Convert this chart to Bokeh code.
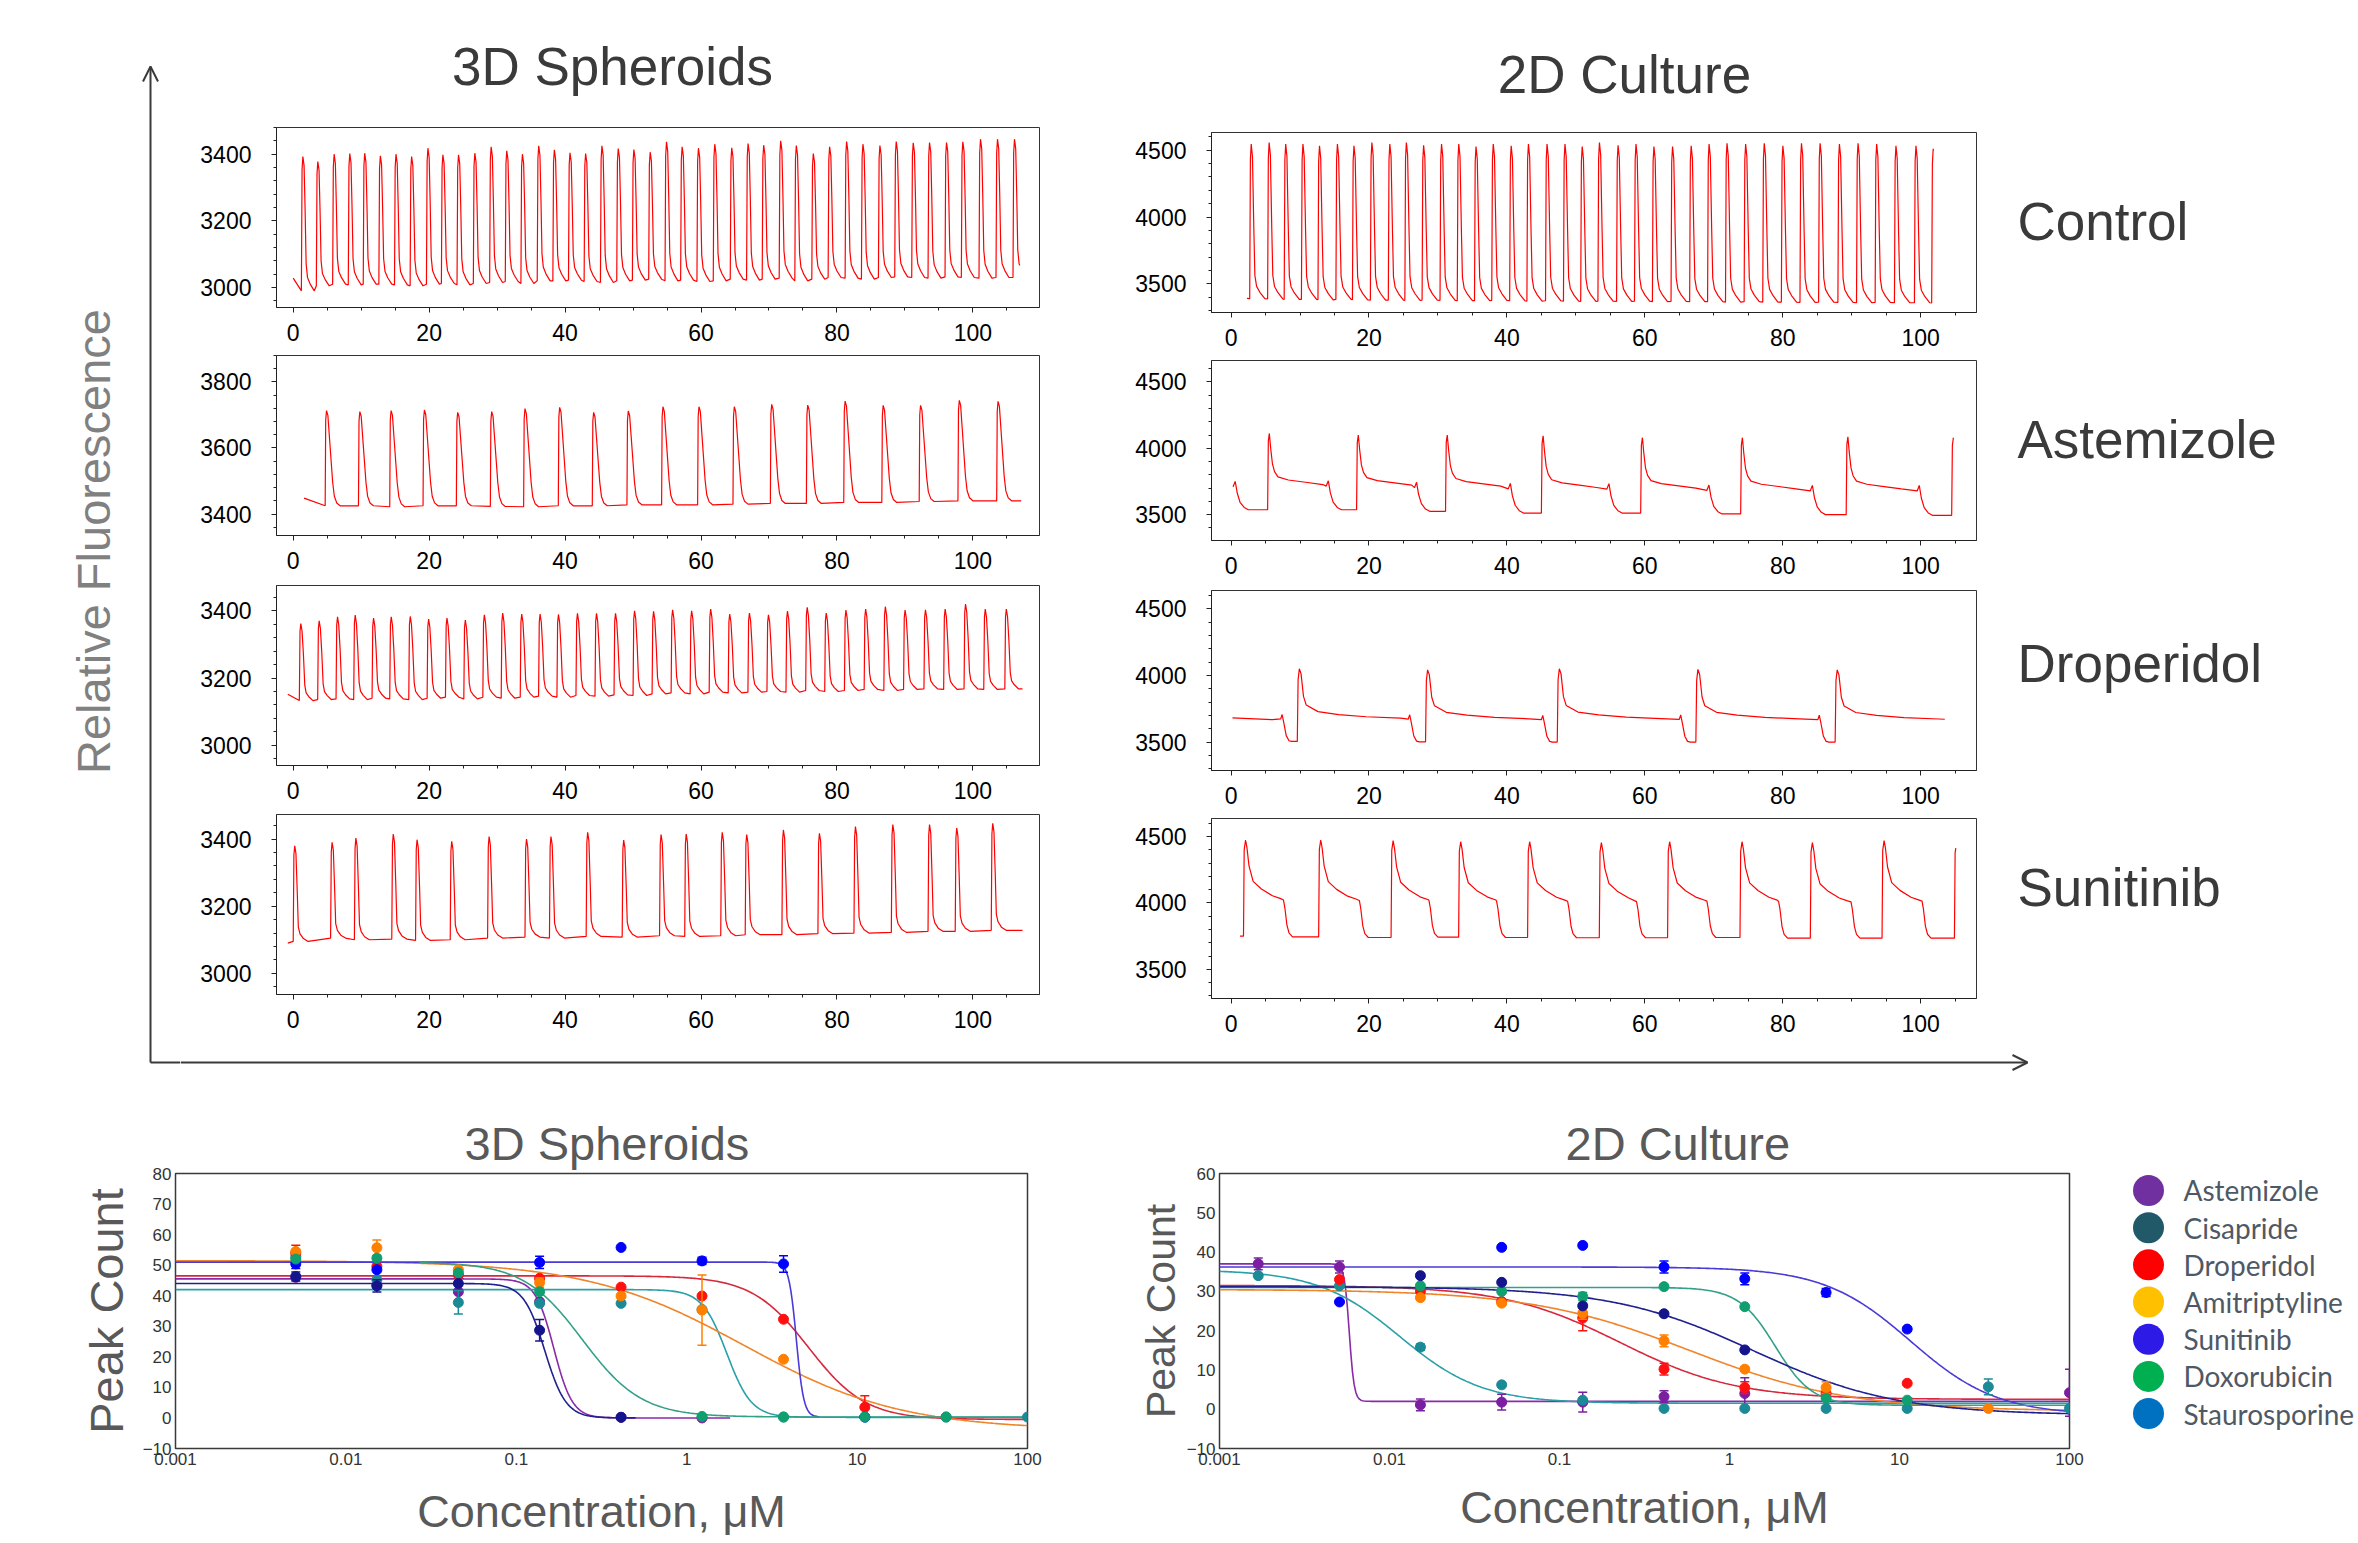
import numpy as np
from bokeh.plotting import figure
from bokeh.layouts import row, column
from bokeh.models import Range1d, FixedTicker, Arrow, OpenHead
from bokeh.core.properties import value
from bokeh.embed import file_html
from bokeh.resources import INLINE

SANS = "Liberation Sans"
TRACE_RED = "#ff0000"

# ------------------------------------------------------------------ axis ticks
time_ticks = [0, 20, 40, 60, 80, 100]
ticks_3d_low = [3000, 3200, 3400]
ticks_3d_high = [3400, 3600, 3800]
ticks_2d = [3500, 4000, 4500]
row_labels = ["Control", "Astemizole", "Droperidol", "Sunitinib"]

# ------------------------------------------------- beat shapes (dt [s], fraction of amplitude)
shape_3d_control = [(0, 0), (0.1, 0.9), (0.22, 1.0), (0.4, 0.93), (0.55, 0.6), (0.7, 0.2), (0.9, 0.1), (1.3, 0.05), (1.9, 0.0)]
shape_3d_astemizole = [(0, 0), (0.08, 0.9), (0.2, 1.0), (0.4, 0.95), (0.65, 0.7), (0.9, 0.45), (1.1, 0.25), (1.35, 0.1), (1.7, 0.03), (2.2, 0.0)]
shape_3d_droperidol = [(0, 0), (0.1, 0.9), (0.22, 1.0), (0.4, 0.9), (0.6, 0.6), (0.8, 0.2), (1.0, 0.1), (1.4, 0.05), (2.0, 0.0)]
shape_3d_sunitinib = [(0, 0), (0.1, 0.9), (0.22, 1.0), (0.4, 0.92), (0.6, 0.5), (0.75, 0.15), (1.0, 0.08), (1.5, 0.03), (2.2, 0.0)]
shape_2d_control = [(0, 0), (0.1, 0.9), (0.22, 1.0), (0.4, 0.92), (0.6, 0.45), (0.75, 0.15), (1.0, 0.08), (1.5, 0.04), (2.2, 0.0)]
shape_2d_astemizole_up = [(0, 0), (0.1, 0.9), (0.25, 1.0), (0.45, 0.8), (0.7, 0.6), (1.0, 0.5), (1.5, 0.43), (3, 0.39), (5.5, 0.36), (8, 0.33), (11, 0.31)]
shape_2d_astemizole_down = [(0, 0.31), (0.3, 0.38), (0.6, 0.22), (1.0, 0.1), (1.6, 0.03), (2.2, 0.0)]
shape_2d_droperidol_up = [(0, 0), (0.12, 0.85), (0.3, 1.0), (0.55, 0.93), (0.9, 0.62), (1.3, 0.5), (3, 0.41), (6, 0.37), (10, 0.34), (15, 0.32), (20, 0.3)]
shape_2d_droperidol_down = [(0, 0.31), (0.2, 0.37), (0.4, 0.28), (0.8, 0.08), (1.2, 0.01), (1.6, 0.0)]
shape_2d_sunitinib_up = [(0, 0), (0.1, 0.9), (0.3, 1.0), (0.5, 0.92), (0.8, 0.73), (1.4, 0.57), (2.6, 0.49), (4.2, 0.42), (5.4, 0.39)]
shape_2d_sunitinib_down = [(0, 0.38), (0.2, 0.3), (0.5, 0.12), (0.8, 0.04), (1.3, 0.0)]

# ------------------------------------------------- 3D spheroids traces
sph_ctl_onsets = [1.2, 3.4, 5.8, 8.1, 10.3, 12.6, 14.9, 17.2, 19.6, 21.8,
                  24.1, 26.5, 28.9, 31.2, 33.5, 35.9, 38.2, 40.5, 42.8, 45.2,
                  47.6, 49.9, 52.3, 54.7, 57.0, 59.4, 61.8, 64.3, 66.7, 69.0,
                  71.5, 73.8, 76.3, 78.7, 81.2, 83.6, 86.1, 88.5, 91.0, 93.4,
                  95.9, 98.3, 100.9, 103.4, 105.9]
sph_ctl_peaks = [3393, 3378, 3400, 3402, 3403, 3395, 3400, 3393, 3418, 3398,
                 3398, 3403, 3422, 3410, 3400, 3425, 3413, 3404, 3402, 3425,
                 3417, 3414, 3406, 3437, 3422, 3418, 3430, 3419, 3432, 3427,
                 3440, 3426, 3402, 3422, 3438, 3430, 3426, 3438, 3434, 3435,
                 3435, 3437, 3445, 3445, 3445]
sph_ctl_bases = [2990, 3005, 3010, 3008, 3010, 3010, 3008, 3005, 3010, 3012,
                 3008, 3012, 3015, 3018, 3012, 3020, 3020, 3022, 3018, 3015,
                 3020, 3022, 3025, 3020, 3022, 3018, 3020, 3025, 3022, 3025,
                 3028, 3020, 3025, 3030, 3028, 3025, 3030, 3032, 3030, 3028,
                 3032, 3030, 3028, 3030, 3030]
sph_ctl_lead = (0.0, 3028)
sph_ctl_span = (0.0, 106.9)

sph_ast_onsets = [4.7, 9.6, 14.2, 19.1, 24.0, 29.0, 33.9, 39.0, 44.0, 49.1,
                  54.2, 59.5, 64.7, 70.2, 75.5, 81.0, 86.6, 92.1, 97.8, 103.5]
sph_ast_peaks = [3713, 3710, 3713, 3715, 3708, 3710, 3719, 3723, 3708, 3712,
                 3725, 3725, 3725, 3732, 3730, 3742, 3729, 3729, 3744, 3741]
sph_ast_bases = [3425, 3425, 3422, 3425, 3425, 3423, 3422, 3425, 3425, 3428,
                 3428, 3428, 3430, 3432, 3432, 3435, 3435, 3438, 3440, 3440]
sph_ast_lead = (1.6, 3448)
sph_ast_span = (1.6, 107.1)

sph_dro_onsets = [0.9, 3.6, 6.3, 8.9, 11.6, 14.2, 17.0, 19.7, 22.4, 25.1,
                  27.9, 30.6, 33.4, 36.1, 38.8, 41.6, 44.4, 47.2, 50.0, 52.8,
                  55.6, 58.4, 61.2, 64.0, 66.9, 69.7, 72.5, 75.4, 78.2, 81.1,
                  84.0, 86.9, 89.8, 92.8, 95.7, 98.7, 101.6, 104.7]
sph_dro_peaks = [3362, 3370, 3382, 3387, 3378, 3382, 3383, 3375, 3378, 3372,
                 3388, 3393, 3390, 3390, 3389, 3392, 3392, 3392, 3400, 3398,
                 3403, 3400, 3405, 3390, 3393, 3388, 3399, 3410, 3393, 3402,
                 3405, 3412, 3402, 3403, 3405, 3420, 3405, 3405]
sph_dro_bases = [3133, 3136, 3138, 3136, 3140, 3138, 3136, 3140, 3143, 3138,
                 3143, 3140, 3143, 3146, 3143, 3148, 3146, 3150, 3148, 3153,
                 3156, 3153, 3158, 3156, 3158, 3160, 3158, 3163, 3160, 3163,
                 3166, 3163, 3166, 3168, 3166, 3168, 3166, 3168]
sph_dro_lead = (-0.8, 3152)
sph_dro_span = (-0.8, 107.3)

sph_sun_onsets = [0.0, 5.5, 9.0, 14.5, 18.0, 23.1, 28.6, 34.1, 37.7, 43.1,
                  48.4, 53.9, 57.6, 62.9, 66.5, 71.9, 77.2, 82.5, 88.0, 93.4,
                  97.4, 102.7]
sph_sun_peaks = [3380, 3390, 3403, 3415, 3398, 3393, 3407, 3400, 3407, 3420,
                 3397, 3413, 3415, 3420, 3413, 3427, 3417, 3437, 3443, 3443,
                 3433, 3447]
sph_sun_bases = [3095, 3105, 3100, 3102, 3098, 3100, 3105, 3108, 3105, 3110,
                 3108, 3112, 3110, 3112, 3115, 3115, 3118, 3120, 3122, 3125,
                 3125, 3128]
sph_sun_lead = (-0.8, 3090)
sph_sun_span = (-0.8, 107.3)

# ------------------------------------------------- 2D culture traces
cul_ctl_onsets = [2.7, 5.3, 7.7, 10.2, 12.6, 15.2, 17.6, 20.2, 22.8, 25.2,
                  27.7, 30.3, 32.8, 35.3, 37.8, 40.4, 42.9, 45.6, 48.2, 50.7,
                  53.2, 55.9, 58.5, 61.1, 63.8, 66.5, 69.1, 71.7, 74.4, 77.1,
                  79.8, 82.5, 85.2, 88.0, 90.7, 93.4, 96.2, 99.1, 101.6]
cul_ctl_peaks = [4545, 4557, 4545, 4545, 4532, 4545, 4532, 4557, 4545, 4557,
                 4537, 4545, 4545, 4527, 4545, 4532, 4545, 4545, 4545, 4527,
                 4557, 4537, 4545, 4527, 4527, 4532, 4545, 4552, 4545, 4552,
                 4532, 4552, 4552, 4545, 4552, 4545, 4532, 4532, 4510]
cul_ctl_bases = [3390, 3388, 3385, 3385, 3382, 3385, 3382, 3380, 3380, 3378,
                 3380, 3378, 3375, 3375, 3378, 3375, 3372, 3375, 3372, 3370,
                 3372, 3370, 3372, 3368, 3370, 3368, 3368, 3365, 3368, 3365,
                 3365, 3362, 3365, 3362, 3360, 3362, 3360, 3360, 3358]
cul_ctl_lead = (2.3, 3392)
cul_ctl_span = (2.3, 101.85)

cul_ast_onsets = [-9.0, 5.3, 18.2, 31.1, 45.0, 59.4, 73.9, 89.2, 104.5]
cul_ast_drops = [0.3, 13.8, 26.6, 40.2, 54.5, 69.0, 84.0, 99.5, None]
cul_ast_peaks = [4100, 4112, 4100, 4100, 4095, 4080, 4080, 4087, 4080]
cul_ast_bases = [3530, 3537, 3537, 3525, 3512, 3512, 3505, 3500, 3495]
cul_ast_span = (0.25, 104.75)

cul_dro_onsets = [-14.0, 9.6, 28.2, 47.3, 67.4, 87.6]
cul_dro_drops = [7.2, 25.7, 45.0, 65.0, 85.1, None]
cul_dro_peaks = [4050, 4050, 4042, 4050, 4045, 4042]
cul_dro_bases = [3505, 3505, 3502, 3500, 3500, 3500]
cul_dro_span = (0.2, 103.5)

cul_sun_onsets = [1.8, 12.7, 23.2, 33.0, 43.0, 53.4, 63.3, 73.8, 84.0, 94.4, 104.9]
cul_sun_drops = [7.6, 18.6, 28.7, 38.5, 48.8, 58.8, 69.0, 79.4, 89.9, 100.2, None]
cul_sun_peaks = [4475, 4475, 4470, 4462, 4462, 4455, 4462, 4462, 4455, 4470, 4450]
cul_sun_bases = [3750, 3745, 3740, 3742, 3740, 3738, 3738, 3740, 3735, 3735, 3735]
cul_sun_lead = (1.3, 3750)
cul_sun_span = (1.3, 105.1)

# ------------------------------------------------- dose response
conc_uM = [0.00169, 0.00508, 0.0152, 0.0457, 0.137, 0.412, 1.23, 3.70, 11.1, 33.3, 100.0]
conc_ticks = [0.001, 0.01, 0.1, 1, 10, 100]
compounds = ["Astemizole", "Cisapride", "Droperidol", "Amitriptyline", "Sunitinib", "Doxorubicin", "Staurosporine"]
legend_colors = ["#7030a0", "#215968", "#ff0000", "#ffc000", "#2e1ae6", "#00b050", "#0070c0"]
point_colors = ["#7b1fa2", "#1a8a96", "#ff1010", "#ff7f00", "#0000ff", "#10a070", "#14148c"]
curve_colors = ["#8a2aa8", "#2aa0a8", "#d8283c", "#f0842a", "#4a3ad8", "#35a088", "#202090"]

N = None
peaks_3d = [
    [N, 46.0, 43.5, 41.3, 38.0, 0.2, 0.0, N, N, N, N],
    [N, 52.8, 45.2, 37.8, 37.5, 37.5, 35.5, 0.3, 0.3, 0.3, 0.3],
    [N, 54.0, 49.6, 46.8, 45.7, 42.8, 39.9, 32.3, 3.5, N, N],
    [N, 54.5, 55.7, 48.5, 44.3, 39.9, 35.3, 19.2, N, N, N],
    [N, 50.4, 48.5, N, 50.9, 55.8, 51.4, 50.4, 0.3, N, N],
    [N, 52.0, 52.3, 47.5, 41.3, N, 0.5, 0.3, 0.3, 0.3, N],
    [N, 46.3, 43.2, 44.0, 28.7, 0.2, N, N, N, N, N],
]
err_3d = [
    [0, 0, 0, 0, 0, 0, 0, 0, 0, 0, 0],
    [0, 0, 0, 3.8, 0, 0, 0, 0, 0, 0, 0],
    [0, 2.5, 0, 0, 0, 0, 0, 0, 3.8, 0, 0],
    [0, 0, 2.5, 0, 1.5, 0, 11.5, 0, 0, 0, 0],
    [0, 1.5, 0, 0, 2.0, 0, 1.2, 2.7, 0, 0, 0],
    [0, 0, 0, 0, 0, 0, 0, 0, 0, 0, 0],
    [0, 1.5, 2.0, 0, 3.5, 0, 0, 0, 0, 0, 0],
]
fit3d_top = [45.5, 42.0, 46.5, 51.5, 51.0, 51.0, 44.0]
fit3d_bottom = [0.0, 0.2, -0.5, -4.0, 0.3, 0.3, 0.0]
fit3d_ic50 = [0.166, 1.72, 5.2, 2.17, 4.4, 0.244, 0.147]
fit3d_hill = [8.0, 6.0, 2.6, 0.94, 20.0, 2.5, 7.0]
fit3d_from = [0.001, 0.001, 0.001, 0.001, 0.001, 0.027, 0.001]
fit3d_to = [1.8, 100, 100, 100, 6.0, 100, 0.5]

peaks_2d = [
    [37.0, 36.2, 1.1, 1.8, 1.8, 3.2, 4.0, N, N, N, 4.2],
    [34.0, 31.4, 15.8, 6.2, 2.3, 0.2, 0.2, 0.2, 0.2, 5.7, 0.2],
    [N, 33.0, 30.0, 27.4, 23.2, 10.2, 5.5, 4.0, 6.6, N, N],
    [N, N, 28.4, 27.0, 24.4, 17.4, 10.2, 5.5, N, 0.2, N],
    [N, 27.3, N, 41.2, 41.7, 36.2, 33.2, 29.7, 20.4, N, N],
    [N, N, 31.4, 30.0, 28.7, 31.2, 26.1, 2.8, 2.3, N, N],
    [N, N, 34.0, 32.3, 26.3, 24.3, 15.1, N, N, N, N],
]
err_2d = [
    [1.5, 1.5, 1.5, 2.0, 2.5, 1.5, 4.0, 0, 0, 0, 6.0],
    [0, 0, 0.8, 0, 0, 0, 0, 0, 0, 2.0, 0],
    [0, 0, 0, 0, 3.2, 1.5, 1.5, 0, 0, 0, 0],
    [0, 0, 0, 0, 1.5, 1.5, 0, 1.5, 0, 0, 0],
    [0, 0, 0, 0, 0, 1.5, 1.5, 1.0, 0, 0, 0],
    [0, 0, 0, 0, 1.0, 0, 0, 0, 0, 0, 0],
    [0, 0, 0, 0, 0, 0, 0, 0, 0, 0, 0],
]
fit2d_top = [37.0, 35.5, 31.5, 30.5, 36.2, 31.0, 31.2]
fit2d_bottom = [2.0, 1.5, 2.5, -0.5, -1.5, 1.0, -1.5]
fit2d_ic50 = [0.0058, 0.0115, 0.227, 0.58, 11.6, 1.86, 1.39]
fit2d_hill = [30.0, 1.8, 1.27, 0.92, 1.7, 4.0, 1.04]
fit2d_from = [0.001, 0.001, 0.001, 0.001, 0.001, 0.001, 0.001]
fit2d_to = [100, 100, 100, 100, 100, 100, 100]


# ================================================================== helpers
def build_trace(onsets, peaks, bases, shape_up, span, lead=None, drops=None, shape_down=None):
    pts = []
    if lead is not None:
        pts.append(tuple(lead))
    n = len(onsets)
    for i in range(n):
        o, pk, b = onsets[i], peaks[i], bases[i]
        nxt = onsets[i + 1] if i + 1 < n else 1e9
        d = drops[i] if drops is not None else None
        lim = min(nxt, d) if d is not None else nxt
        for dt, f in shape_up:
            if o + dt < lim:
                pts.append((o + dt, b + f * (pk - b)))
        if d is not None and shape_down is not None:
            b2 = bases[i + 1] if i + 1 < n else b
            for dt, f in shape_down:
                if d + dt < nxt:
                    pts.append((d + dt, b2 + f * (pk - b2)))
    pts.sort()
    t = np.array([p[0] for p in pts])
    y = np.array([p[1] for p in pts])
    t0, t1 = span
    keep = (t > t0) & (t < t1)
    ts = [t0] + list(t[keep])
    ys = [float(np.interp(t0, t, y))] + list(y[keep])
    ts.append(t1)
    ys.append(float(np.interp(t1, t, y)))
    return ts, ys


def canvas(x0, x1, y0, y1):
    p = figure(width=x1 - x0, height=y1 - y0, x_range=Range1d(x0, x1), y_range=Range1d(y1, y0),
               x_axis_location=None, y_axis_location=None, toolbar_location=None,
               output_backend="svg", min_border=0)
    p.outline_line_color = None
    p.xgrid.visible = False
    p.ygrid.visible = False
    p.grid.visible = False
    return p


def trace_panel(ts, ys, xr, yr, yticks, ystep, width, height, mbl, mbr, mbt, mbb):
    p = figure(width=width, height=height, x_range=Range1d(*xr), y_range=Range1d(*yr),
               toolbar_location=None, output_backend="svg",
               min_border_left=mbl, min_border_right=mbr, min_border_top=mbt, min_border_bottom=mbb)
    p.line(ts, ys, line_color=TRACE_RED, line_width=1.2)
    p.grid.visible = False
    p.outline_line_color = "#333333"
    p.xaxis.ticker = FixedTicker(ticks=time_ticks, minor_ticks=list(range(-5, 115, 5)))
    lo = int(yr[0] // ystep * ystep)
    p.yaxis.ticker = FixedTicker(ticks=yticks, minor_ticks=list(range(lo, int(yr[1]) + ystep, ystep)))
    for ax in (p.xaxis, p.yaxis):
        ax.axis_line_color = "#222222"
        ax.major_tick_out = 5
        ax.major_tick_in = 0
        ax.minor_tick_out = 3
        ax.minor_tick_in = 0
        ax.major_tick_line_color = "#222222"
        ax.minor_tick_line_color = "#222222"
        ax.major_label_text_font = SANS
        ax.major_label_text_font_size = "23px"
        ax.major_label_text_color = "#000000"
    p.xaxis.major_label_standoff = 11
    p.yaxis.major_label_standoff = 20
    return p


def dose_plot(title, t_off, ymax, peaks, errs, fit, width, mbl, mbr, mbt, mbb,
              ylab_size, ylab_standoff, xlab_standoff):
    tops, bottoms, ics, hills, froms, tos = fit
    p = figure(width=width, height=458, x_axis_type="log", x_range=Range1d(0.001, 100),
               y_range=Range1d(-10, ymax), toolbar_location=None, output_backend="svg",
               min_border_left=mbl, min_border_right=mbr, min_border_top=mbt, min_border_bottom=mbb,
               title=title)
    p.title.align = "left"
    p.title.offset = t_off
    p.title.text_font = SANS
    p.title.text_font_size = "47px"
    p.title.text_font_style = "normal"
    p.title.text_color = "#595959"
    p.title.standoff = 8
    p.grid.visible = False
    p.outline_line_color = "#3a3a3a"
    p.outline_line_width = 1.5
    for k in range(len(compounds)):
        xs = np.logspace(np.log10(froms[k]), np.log10(tos[k]), 500)
        ys = bottoms[k] + (tops[k] - bottoms[k]) / (1 + (xs / ics[k]) ** hills[k])
        p.line(xs, ys, line_color=curve_colors[k], line_width=1.6)
    for k in range(len(compounds)):
        xs, ys, ex, elo, ehi = [], [], [], [], []
        for c, v, e in zip(conc_uM, peaks[k], errs[k]):
            if v is None:
                continue
            xs.append(c)
            ys.append(v)
            if e > 0:
                ex.append(c)
                elo.append(v - e)
                ehi.append(v + e)
        if ex:
            p.segment(x0=ex, y0=elo, x1=ex, y1=ehi, line_color=point_colors[k], line_width=1.5)
            p.scatter(ex + ex, elo + ehi, marker="dash", size=9, line_color=point_colors[k], line_width=1.5)
        p.scatter(xs, ys, size=10, fill_color=point_colors[k], line_color=point_colors[k])
    p.xaxis.ticker = FixedTicker(ticks=conc_ticks)
    p.xaxis.major_label_overrides = {0.001: "0.001", 0.01: "0.01", 0.1: "0.1", 1: "1", 10: "10", 100: "100"}
    p.yaxis.ticker = FixedTicker(ticks=list(range(-10, ymax + 1, 10)))
    for ax in (p.xaxis, p.yaxis):
        ax.axis_line_color = None
        ax.major_tick_out = 0
        ax.major_tick_in = 0
        ax.minor_tick_out = 0
        ax.minor_tick_in = 0
        ax.major_label_text_font = SANS
        ax.major_label_text_font_size = "17px"
        ax.major_label_text_color = "#333333"
        ax.major_label_standoff = 4
        ax.axis_label_text_font = SANS
        ax.axis_label_text_font_style = "normal"
        ax.axis_label_text_color = "#595959"
    p.xaxis.axis_label = "Concentration, \u03bcM"
    p.xaxis.axis_label_text_font_size = "45px"
    p.xaxis.axis_label_standoff = xlab_standoff
    p.yaxis.axis_label = "Peak Count"
    p.yaxis.axis_label_text_font_size = ylab_size
    p.yaxis.axis_label_standoff = ylab_standoff
    return p


# ================================================================== traces
tr = {
    "s_ctl": build_trace(sph_ctl_onsets, sph_ctl_peaks, sph_ctl_bases, shape_3d_control, sph_ctl_span, lead=sph_ctl_lead),
    "s_ast": build_trace(sph_ast_onsets, sph_ast_peaks, sph_ast_bases, shape_3d_astemizole, sph_ast_span, lead=sph_ast_lead),
    "s_dro": build_trace(sph_dro_onsets, sph_dro_peaks, sph_dro_bases, shape_3d_droperidol, sph_dro_span, lead=sph_dro_lead),
    "s_sun": build_trace(sph_sun_onsets, sph_sun_peaks, sph_sun_bases, shape_3d_sunitinib, sph_sun_span, lead=sph_sun_lead),
    "c_ctl": build_trace(cul_ctl_onsets, cul_ctl_peaks, cul_ctl_bases, shape_2d_control, cul_ctl_span, lead=cul_ctl_lead),
    "c_ast": build_trace(cul_ast_onsets, cul_ast_peaks, cul_ast_bases, shape_2d_astemizole_up, cul_ast_span,
                         drops=cul_ast_drops, shape_down=shape_2d_astemizole_down),
    "c_dro": build_trace(cul_dro_onsets, cul_dro_peaks, cul_dro_bases, shape_2d_droperidol_up, cul_dro_span,
                         drops=cul_dro_drops, shape_down=shape_2d_droperidol_down),
    "c_sun": build_trace(cul_sun_onsets, cul_sun_peaks, cul_sun_bases, shape_2d_sunitinib_up, cul_sun_span,
                         lead=cul_sun_lead, drops=cul_sun_drops, shape_down=shape_2d_sunitinib_down),
}

XL = (-2.46, 109.8)
XR = (-2.84, 108.1)
left_specs = [("s_ctl", (2940, 3480), ticks_3d_low, 240, 17, 43),
              ("s_ast", (3335, 3880), ticks_3d_high, 230, 5, 45),
              ("s_dro", (2940, 3475), ticks_3d_low, 229, 5, 44),
              ("s_sun", (2937, 3473), ticks_3d_low, 236, 5, 51)]
right_specs = [("c_ctl", (3287, 4632), ticks_2d, 245, 22, 43),
               ("c_ast", (3305, 4662), ticks_2d, 230, 5, 45),
               ("c_dro", (3287, 4637), ticks_2d, 228, 5, 43),
               ("c_sun", (3280, 4637), ticks_2d, 232, 5, 47)]

left_col = column([trace_panel(*tr[k], XL, yr, yt, 40, 920, h, 96, 61, mt, mb)
                   for k, yr, yt, h, mt, mb in left_specs], spacing=0)
right_col = column([trace_panel(*tr[k], XR, yr, yt, 100, 900, h, 111, 24, mt, mb)
                    for k, yr, yt, h, mt, mb in right_specs], spacing=0)

# row labels
lab = canvas(2000, 2358, 110, 1045)
lab.text(x=[2017] * 4, y=[221, 439, 663, 887], text=row_labels, text_font=value(SANS),
         text_font_size="53px", text_color="#3a3a3a", text_align="left", text_baseline="middle")

# header titles
hdr = canvas(180, 2358, 0, 110)
hdr.text(x=[612, 1624], y=[66, 74], text=["3D Spheroids", "2D Culture"], text_font=value(SANS),
         text_font_size="53px", text_color="#3a3a3a", text_align="center", text_baseline="middle")

# horizontal arrow strip
strip = canvas(180, 2358, 1045, 1085)
strip.add_layout(Arrow(end=OpenHead(size=15, line_color="#3a3a3a", line_width=2),
                       x_start=180, y_start=1062, x_end=2027, y_end=1062,
                       line_color="#3a3a3a", line_width=2))

# left strip: vertical arrow + y label
c0 = canvas(0, 180, 0, 1085)
c0.add_layout(Arrow(end=OpenHead(size=15, line_color="#3a3a3a", line_width=2),
                    x_start=150, y_start=1062, x_end=150, y_end=66,
                    line_color="#3a3a3a", line_width=2))
c0.segment(x0=[150], y0=[1062], x1=[180], y1=[1062], line_color="#3a3a3a", line_width=2)
c0.text(x=[93], y=[541], text=["Relative Fluorescence"], angle=np.pi / 2, text_font=value(SANS),
        text_font_size="47px", text_color="#808080", text_align="center", text_baseline="middle")

top_section = row(c0, column(hdr, row(left_col, right_col, lab, spacing=0), strip, spacing=0), spacing=0)

# ================================================================== dose response
d3 = dose_plot("3D Spheroids", 289, 80, peaks_3d, err_3d,
               (fit3d_top, fit3d_bottom, fit3d_ic50, fit3d_hill, fit3d_from, fit3d_to),
               1100, 175, 73, 88, 95, "47px", 7, 18)
d2 = dose_plot("2D Culture", 346, 60, peaks_2d, err_2d,
               (fit2d_top, fit2d_bottom, fit2d_ic50, fit2d_hill, fit2d_from, fit2d_to),
               1000, 119, 31, 88, 95, "41px", 0, 14)

# legend: frame aligned with the dose plots (page y 1173..1448)
leg = figure(width=258, height=458, x_range=Range1d(2100, 2358), y_range=Range1d(6.94, -0.457),
             x_axis_location=None, y_axis_location=None, toolbar_location=None,
             output_backend="svg", min_border_left=0, min_border_right=0,
             min_border_top=88, min_border_bottom=95)
leg.outline_line_color = None
leg.grid.visible = False
idx = list(range(len(compounds)))
leg.scatter(x=[2148] * len(compounds), y=idx, size=31, fill_color=legend_colors, line_color=None)
leg.text(x=[2183] * len(compounds), y=idx, text=compounds, text_font=value("Lato"),
         text_font_size="28px", text_color="#4f5965", text_align="left", text_baseline="middle")

bottom_section = row(d3, d2, leg, spacing=0)
layout = column(top_section, bottom_section, spacing=0)

open("out.html", "w").write(file_html(layout, INLINE))
